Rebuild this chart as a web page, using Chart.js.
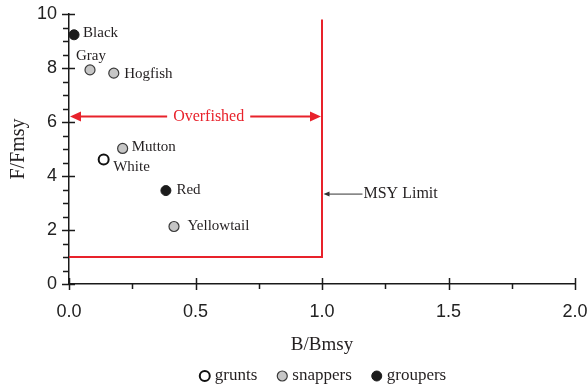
<!DOCTYPE html>
<html>
<head>
<meta charset="utf-8">
<script src="https://cdn.jsdelivr.net/npm/chart.js@4/dist/chart.umd.min.js"></script>
<style>
  html, body { margin: 0; padding: 0; background: #ffffff; }
  #wrap { width: 588px; height: 385px; }
</style>
</head>
<body>
<div id="wrap"><canvas id="c"></canvas></div>
<script>
// Stock status by species: biomass ratio (B/Bmsy) against fishing ratio (F/Fmsy)
const species = ['Black', 'Gray', 'Hogfish', 'Mutton', 'White', 'Red', 'Yellowtail'];
const speciesGroup = ['groupers', 'snappers', 'snappers', 'snappers', 'grunts', 'groupers', 'snappers'];
const bRatio = [0.02, 0.083, 0.177, 0.212, 0.137, 0.383, 0.415];
const fRatio = [9.23, 7.93, 7.81, 5.02, 4.61, 3.46, 2.13];
const groups = ['grunts', 'snappers', 'groupers'];

// MSY limit boundary (red corner line)
const limitB = [0, 1, 1];
const limitF = [1, 1, 9.8];

// Overfished range arrow and MSY limit pointer
const overfishedF = 6.2;
const overfishedFromB = 0;
const overfishedToB = 1;
const overfishedText = 'Overfished';
const msyPointerF = 3.33;
const msyPointerStartB = 1.16;
const msyText = 'MSY Limit';

// Axis ranges and tick steps
const xMin = 0, xMax = 2, xStep = 0.5, xMinorStep = 0.25;
const yMin = 0, yMax = 10, yStep = 2, yMinorStep = 0.5;

// ---- styling (kept apart from the data) ----
const RED = '#e8222b';
const INK = '#231f20';
const groupStyle = {
  grunts:   { bg: '#ffffff', border: '#111111', width: 2 },
  snappers: { bg: '#c6c6c6', border: '#3a3a3a', width: 1.2 },
  groupers: { bg: '#1b1b1b', border: '#1b1b1b', width: 1 }
};
// label offsets from the marker centre: [dx, dy, align]
const labelPlacement = {
  Black:      [9, -2, 'left'],
  Gray:       [1, -14, 'center'],
  Hogfish:    [10.5, 1, 'left'],
  Mutton:     [9, -1, 'left'],
  White:      [9.5, 7.5, 'left'],
  Red:        [10.5, -1, 'left'],
  Yellowtail: [13.5, 0, 'left']
};
const SERIF = '"Liberation Serif", "Times New Roman", serif';
const SANS = '"Liberation Sans", Arial, sans-serif';

const datasets = groups.map(g => {
  const pts = [];
  species.forEach((name, i) => {
    if (speciesGroup[i] === g) pts.push({ x: bRatio[i], y: fRatio[i], name: name });
  });
  const st = groupStyle[g];
  return {
    label: g,
    isGroup: true,
    data: pts,
    pointRadius: 5,
    pointHoverRadius: 5,
    pointBackgroundColor: st.bg,
    pointBorderColor: st.border,
    pointBorderWidth: st.width,
    showLine: false
  };
});

datasets.unshift({
  label: 'MSY limit',
  isGroup: false,
  data: limitB.map((b, i) => ({ x: b, y: limitF[i] })),
  showLine: true,
  borderColor: RED,
  borderWidth: 2,
  pointRadius: 0,
  fill: false,
  tension: 0
});

function arrowHead(ctx, tipX, tipY, dir, len, half) {
  ctx.beginPath();
  ctx.moveTo(tipX, tipY);
  ctx.lineTo(tipX - dir * len, tipY - half);
  ctx.lineTo(tipX - dir * len, tipY + half);
  ctx.closePath();
  ctx.fill();
}

// Major and minor tick marks across both axes
const axisTicks = {
  id: 'axisTicks',
  afterDraw(chart) {
    const { ctx, chartArea: a } = chart;
    const xs = chart.scales.x, ys = chart.scales.y;
    ctx.save();
    ctx.strokeStyle = '#1a1a1a';
    ctx.lineWidth = 1.5;
    ctx.beginPath();
    const nx = Math.round((xMax - xMin) / xMinorStep);
    for (let i = 0; i <= nx; i++) {
      const v = xMin + i * xMinorStep;
      const px = Math.round(xs.getPixelForValue(v)) + 0.5;
      const major = Math.abs(v / xStep - Math.round(v / xStep)) < 1e-6;
      ctx.moveTo(px, a.bottom + (major ? 6 : 5));
      ctx.lineTo(px, a.bottom - (major ? 6 : 0));
    }
    const ny = Math.round((yMax - yMin) / yMinorStep);
    for (let i = 0; i <= ny; i++) {
      const v = yMin + i * yMinorStep;
      const py = Math.round(ys.getPixelForValue(v)) + 0.5;
      const major = Math.abs(v / yStep - Math.round(v / yStep)) < 1e-6;
      ctx.moveTo(a.left - (major ? 7 : 6), py);
      ctx.lineTo(a.left + (major ? 6 : 0), py);
    }
    ctx.stroke();
    ctx.restore();
  }
};

// Overfished double arrow and MSY limit pointer
const annotations = {
  id: 'annotations',
  afterDatasetsDraw(chart) {
    const { ctx } = chart;
    const xs = chart.scales.x, ys = chart.scales.y;
    ctx.save();
    // Overfished
    const y = ys.getPixelForValue(overfishedF);
    const x0 = xs.getPixelForValue(overfishedFromB) + 1;
    const x1 = xs.getPixelForValue(overfishedToB) - 1;
    ctx.font = '16px ' + SERIF;
    const tw = ctx.measureText(overfishedText).width;
    const tc = xs.getPixelForValue(0.56);
    ctx.strokeStyle = RED;
    ctx.fillStyle = RED;
    ctx.lineWidth = 2;
    ctx.beginPath();
    ctx.moveTo(x0 + 8, y); ctx.lineTo(tc - tw / 2 - 8, y);
    ctx.moveTo(tc + tw / 2 + 4, y); ctx.lineTo(x1 - 8, y);
    ctx.stroke();
    arrowHead(ctx, x0, y, -1, 11, 5);
    arrowHead(ctx, x1, y, 1, 11, 5);
    ctx.textAlign = 'center';
    ctx.textBaseline = 'middle';
    ctx.fillText(overfishedText, tc - 2, y);

    // MSY limit pointer
    const my = ys.getPixelForValue(msyPointerF);
    const mTip = xs.getPixelForValue(overfishedToB) + 1.5;
    const mEnd = xs.getPixelForValue(msyPointerStartB);
    ctx.strokeStyle = '#333333';
    ctx.fillStyle = '#333333';
    ctx.lineWidth = 1;
    ctx.beginPath();
    ctx.moveTo(mTip + 4, my); ctx.lineTo(mEnd, my);
    ctx.stroke();
    arrowHead(ctx, mTip, my, -1, 6, 2.5);
    ctx.fillStyle = INK;
    ctx.font = '16px ' + SERIF;
    ctx.textAlign = 'left';
    ctx.fillText(msyText, mEnd + 1, my);
    ctx.restore();
  }
};

// Species names beside their markers
const pointNames = {
  id: 'pointNames',
  afterDatasetsDraw(chart) {
    const { ctx } = chart;
    ctx.save();
    ctx.font = '15px ' + SERIF;
    ctx.fillStyle = INK;
    ctx.textBaseline = 'middle';
    chart.data.datasets.forEach((ds, di) => {
      if (!ds.isGroup) return;
      const meta = chart.getDatasetMeta(di);
      meta.data.forEach((el, i) => {
        const name = ds.data[i].name;
        const [dx, dy, align] = labelPlacement[name];
        ctx.textAlign = align;
        ctx.fillText(name, el.x + dx, el.y + dy);
      });
    });
    ctx.restore();
  }
};

// Group key under the axis title
const groupKey = {
  id: 'groupKey',
  afterDraw(chart) {
    const { ctx, chartArea: a } = chart;
    ctx.save();
    ctx.font = '17px ' + SERIF;
    const r = 5, gapText = 10, gapItem = 20;
    const items = chart.data.datasets.filter(d => d.isGroup).map(d => ({ d, w: ctx.measureText(d.label).width }));
    let total = 0;
    items.forEach((it, i) => { total += 2 * r + gapText - r + it.w + (i ? gapItem : 0); });
    let x = (a.left + a.right) / 2 - total / 2 + 1;
    const y = 376;
    items.forEach(it => {
      const cx = x + r;
      ctx.beginPath();
      ctx.arc(cx, y, r, 0, Math.PI * 2);
      ctx.fillStyle = it.d.pointBackgroundColor;
      ctx.fill();
      ctx.lineWidth = it.d.pointBorderWidth;
      ctx.strokeStyle = it.d.pointBorderColor;
      ctx.stroke();
      ctx.fillStyle = INK;
      ctx.textAlign = 'left';
      ctx.textBaseline = 'middle';
      ctx.fillText(it.d.label, cx + gapText, y);
      x = cx + gapText + it.w + gapItem;
    });
    ctx.restore();
  }
};

new Chart(document.getElementById('c'), {
  type: 'scatter',
  data: { datasets },
  options: {
    responsive: true,
    maintainAspectRatio: false,
    animation: false,
    layout: { padding: 0 },
    plugins: { legend: { display: false }, tooltip: { enabled: false } },
    scales: {
      x: {
        type: 'linear', min: xMin, max: xMax,
        ticks: {
          stepSize: xStep,
          callback: v => Number(v).toFixed(1),
          font: { family: SANS, size: 18 },
          color: '#222222',
          padding: 17,
          maxRotation: 0
        },
        grid: { display: true, drawOnChartArea: false, drawTicks: false },
        border: { display: true, color: '#1a1a1a', width: 1.5 },
        title: {
          display: true, text: 'B/Bmsy', color: INK,
          font: { family: SERIF, size: 19 },
          padding: { top: 0, bottom: 29 }
        },
        afterFit: s => { s.height = 101; s.paddingLeft = 0; s.paddingRight = 13; }
      },
      y: {
        type: 'linear', min: yMin, max: yMax,
        ticks: {
          stepSize: yStep,
          font: { family: SANS, size: 18 },
          color: '#222222',
          padding: 12
        },
        grid: { display: true, drawOnChartArea: false, drawTicks: false },
        border: { display: true, color: '#1a1a1a', width: 1.5 },
        title: {
          display: true, text: 'F/Fmsy', color: INK,
          font: { family: SERIF, size: 20 },
          padding: { top: 7, bottom: 0 }
        },
        afterFit: s => { s.width = 69; s.paddingTop = 14; s.paddingBottom = 0; }
      }
    }
  },
  plugins: [axisTicks, annotations, pointNames, groupKey]
});
</script>
</body>
</html>
